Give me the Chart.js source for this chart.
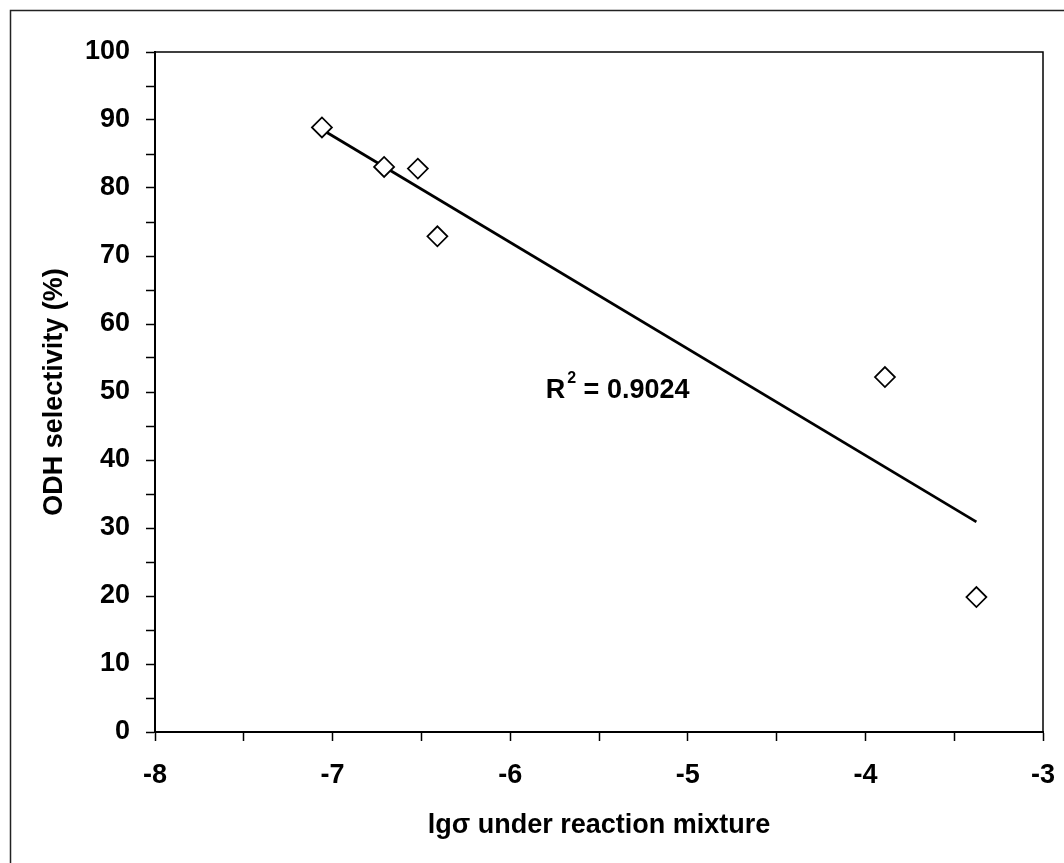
<!DOCTYPE html>
<html>
<head>
<meta charset="utf-8">
<script src="https://cdn.jsdelivr.net/npm/chart.js@4.4.1/dist/chart.umd.min.js"></script>
<style>
  body { margin: 0; background: #fff; }
  #wrap { width: 1064px; height: 863px; }
</style>
</head>
<body>
<div id="wrap"><canvas id="chart" width="1064" height="863"></canvas></div>
<script>
// measured points: lg(sigma) vs ODH selectivity
const lgSigma = [-7.06, -6.71, -6.52, -6.41, -3.89, -3.375];
const selectivity = [88.9, 83.1, 82.85, 72.9, 52.2, 19.85];
// linear trend line end points
const trendX = [-7.06, -3.375];
const trendY = [88.6, 30.9];
const rSquared = '0.9024';

const FONT = '"Liberation Sans", Arial, sans-serif';

// frame round the plot area + outer border + R^2 note
const decorations = {
    id: 'decorations',
    afterDraw(chart) {
        const ctx = chart.ctx;
        const a = chart.chartArea;
        ctx.save();
        ctx.strokeStyle = '#000';
        ctx.lineWidth = 1.5;
        ctx.strokeRect(a.left, a.top, a.right - a.left, a.bottom - a.top);

        ctx.strokeStyle = '#222';
        ctx.lineWidth = 1.5;
        ctx.beginPath();
        ctx.moveTo(10.5, chart.height);
        ctx.lineTo(10.5, 10.5);
        ctx.lineTo(chart.width, 10.5);
        ctx.stroke();

        // R^2 label
        const x = chart.scales.x.getPixelForValue(-5.8);
        const y = chart.scales.y.getPixelForValue(49.1);
        ctx.fillStyle = '#000';
        ctx.textBaseline = 'alphabetic';
        ctx.textAlign = 'left';
        ctx.font = 'bold 27px ' + FONT;
        ctx.fillText('R', x, y);
        let w = ctx.measureText('R').width;
        ctx.font = 'bold 16px ' + FONT;
        ctx.fillText('2', x + w + 2, y - 15);
        w += ctx.measureText('2').width + 2;
        ctx.font = 'bold 27px ' + FONT;
        ctx.fillText(' = ' + rSquared, x + w, y);
        ctx.restore();
    }
};

const ctx = document.getElementById('chart').getContext('2d');
new Chart(ctx, {
    type: 'scatter',
    data: {
        datasets: [
            {
                label: 'ODH selectivity',
                data: lgSigma.map((x, i) => ({ x: x, y: selectivity[i] })),
                pointStyle: 'rectRot',
                pointRadius: 10,
                pointHoverRadius: 10,
                borderColor: '#000',
                backgroundColor: '#fff',
                borderWidth: 1.75,
                order: 1
            },
            {
                label: 'trend',
                type: 'line',
                data: trendX.map((x, i) => ({ x: x, y: trendY[i] })),
                borderColor: '#000',
                borderWidth: 2.75,
                pointRadius: 0,
                fill: false,
                order: 2
            }
        ]
    },
    options: {
        responsive: false,
        animation: false,
        layout: { padding: { left: 0, top: 52, right: 21, bottom: 0 } },
        plugins: {
            legend: { display: false },
            tooltip: { enabled: false }
        },
        scales: {
            x: {
                type: 'linear',
                min: -8,
                max: -3,
                afterFit: s => { s.height = 131; s.paddingLeft = 0; s.paddingRight = 0; },
                border: { display: true, color: '#000', width: 2 },
                grid: { drawOnChartArea: false, drawTicks: true, tickLength: 9, tickColor: '#000', tickWidth: 1.5 },
                ticks: {
                    stepSize: 0.5,
                    autoSkip: false,
                    maxRotation: 0,
                    padding: 18,
                    color: '#000',
                    font: { family: FONT, size: 27, weight: 'bold' },
                    callback: v => (Number.isInteger(v) ? String(v) : '')
                },
                title: {
                    display: true,
                    text: 'lgσ under reaction mixture',
                    color: '#000',
                    font: { family: FONT, size: 27, weight: 'bold' },
                    padding: { top: 0, bottom: 21 }
                }
            },
            y: {
                type: 'linear',
                min: 0,
                max: 100,
                afterFit: s => { s.width = 155; },
                border: { display: true, color: '#000', width: 2 },
                grid: { drawOnChartArea: false, drawTicks: true, tickLength: 9, tickColor: '#000', tickWidth: 1.5 },
                ticks: {
                    stepSize: 5,
                    autoSkip: false,
                    padding: 16,
                    color: '#000',
                    font: { family: FONT, size: 27, weight: 'bold' },
                    callback: v => (v % 10 === 0 ? String(v) : '')
                },
                title: {
                    display: true,
                    text: 'ODH selectivity (%)',
                    color: '#000',
                    font: { family: FONT, size: 27, weight: 'bold' },
                    padding: { top: 38, bottom: 0 }
                }
            }
        }
    },
    plugins: [decorations]
});
</script>
</body>
</html>
